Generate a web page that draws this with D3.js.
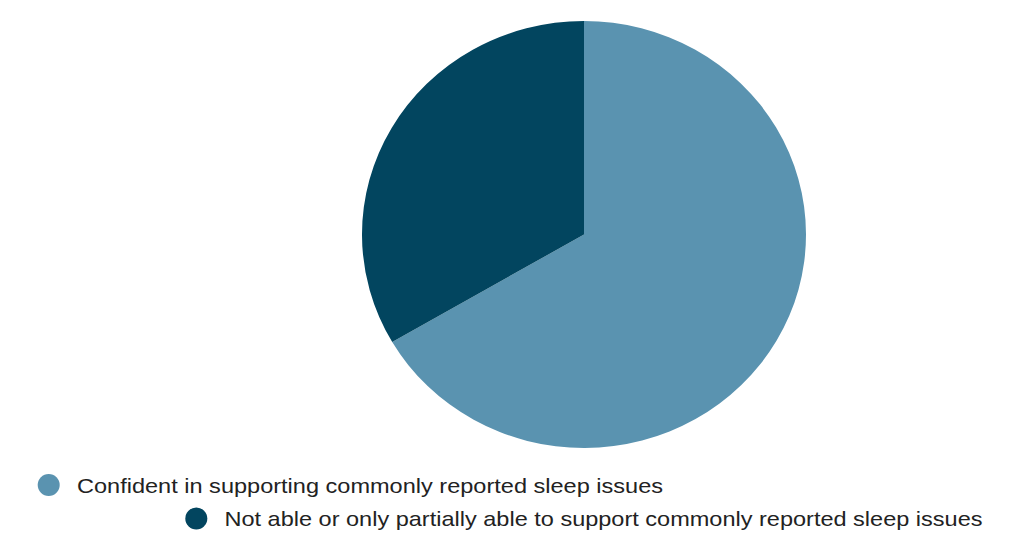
<!DOCTYPE html>
<html>
<head>
<meta charset="utf-8">
<script src="https://cdn.jsdelivr.net/npm/d3@7"></script>
<style>
  body { margin: 0; background: #fff; }
  svg { display: block; }
</style>
</head>
<body>
<svg id="chart" width="1019" height="535"></svg>
<script>
const labels = [
  "Confident in supporting commonly reported sleep issues",
  "Not able or only partially able to support commonly reported sleep issues"
];
const values = [66.6, 33.4];
const colors = ["#5a93b0", "#02455f"];

const width = 1019, height = 535;
const cx = 584, cy = 234.5;
const ry = 213.5, rx = 222;

const svg = d3.select("#chart");

const pie = d3.pie().sort(null).value(d => d.value);
const arc = d3.arc().innerRadius(0).outerRadius(ry);

const data = labels.map((l, i) => ({ label: l, value: values[i], color: colors[i] }));

svg.append("g")
  .attr("transform", `translate(${cx},${cy}) scale(${rx / ry},1)`)
  .selectAll("path")
  .data(pie(data))
  .join("path")
  .attr("d", arc)
  .attr("fill", d => d.data.color);

// legend, two rows, offset like the original
const legendPos = [
  { x: 48.7, y: 485, tx: 77, tw: 586 },
  { x: 196.3, y: 518.5, tx: 224.5, tw: 758 }
];

const legend = svg.append("g")
  .selectAll("g")
  .data(data)
  .join("g");

legend.append("circle")
  .attr("cx", (d, i) => legendPos[i].x)
  .attr("cy", (d, i) => legendPos[i].y)
  .attr("r", 11)
  .attr("fill", d => d.color);

legend.append("text")
  .attr("x", (d, i) => legendPos[i].tx)
  .attr("y", (d, i) => legendPos[i].y + 7.5)
  .attr("font-family", "Liberation Sans, Arial, sans-serif")
  .attr("font-size", 21)
  .attr("fill", "#222")
  .attr("textLength", (d, i) => legendPos[i].tw)
  .attr("lengthAdjust", "spacingAndGlyphs")
  .text(d => d.label);
</script>
</body>
</html>
